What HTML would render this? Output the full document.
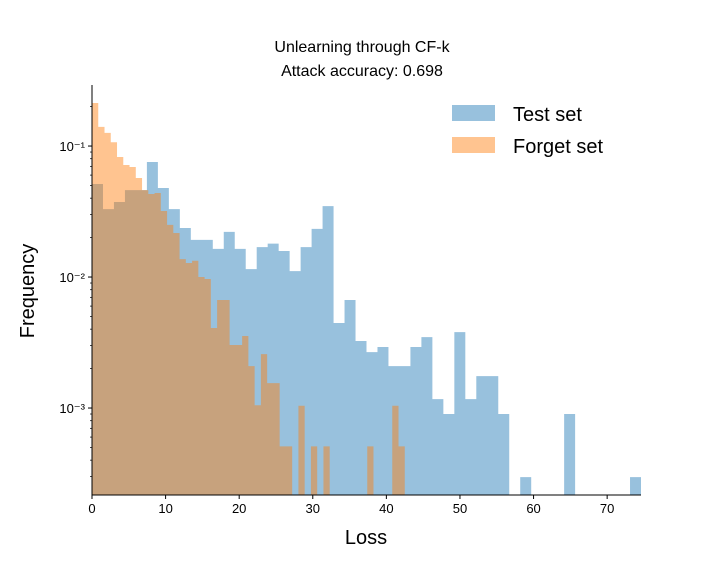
<!DOCTYPE html>
<html><head><meta charset="utf-8"><style>
body{margin:0;background:#fff;}
svg text{font-family:"Liberation Sans","DejaVu Sans",sans-serif;fill:#000;}
</style></head><body>
<svg id="chart" width="714" height="564" viewBox="0 0 714 564" xmlns="http://www.w3.org/2000/svg">
<text x="362" y="52" text-anchor="middle" font-size="16">Unlearning through CF-k</text>
<text x="362" y="76" text-anchor="middle" font-size="16">Attack accuracy: 0.698</text>
<g id="bars"></g>
<g id="axes"></g>
<text x="366" y="544" text-anchor="middle" font-size="20">Loss</text>
<text transform="translate(34,291) rotate(-90)" text-anchor="middle" font-size="20">Frequency</text>
<g>
<g>
<rect x="452" y="105" width="43" height="16" fill="#1f77b4" fill-opacity="0.46"/>
<text x="513" y="121" font-size="20">Test set</text></g>
<g>
<rect x="452" y="137" width="43" height="16" fill="#ff7f0e" fill-opacity="0.46"/>
<text x="513" y="153" font-size="20">Forget set</text></g>
</g>
</svg>
<script>
const testValues=[.0513,.0330,.0374,.0461,.0461,.0755,.0478,.0330,.0237,.0192,.0192,.0164,.0221,.0164,.0115,.0169,.0180,.0158,.0111,.0169,.0233,.0348,.00446,.00668,.00325,.00267,.00292,.00209,.00209,.00292,.00348,.00117,.00090,.00380,.00117,.00175,.00175,.00090,0,.000297,0,0,0,.00090,0,0,0,0,0,.000297];
const testRange=[0,74.6];
const forgetValues=[.213,.140,.126,.107,.0824,.0716,.0692,.0570,.0461,.0430,.0438,.0319,.0250,.0217,.0137,.0128,.0133,.0100,.00966,.00408,.00668,.00668,.00303,.00303,.00355,.00209,.00105,.00258,.00155,.00155,.00051,.00051,0,.00104,0,.00051,0,.00051,0,0,0,0,0,0,.00051,0,0,0,.00104,.00051];
const forgetRange=[0,42.5];
const xTicks=[0,10,20,30,40,50,60,70];
const yDecades=[-3,-2,-1];
const yTickLabels=["10\u207B\u00B3","10\u207B\u00B2","10\u207B\u00B9"];

const X0=92,X1=641,Y0=495,Y1=85;
const xMax=74.6;
const yMinLog=-3.664,yMaxLog=-0.534;
function sx(v){return X0+(v/xMax)*(X1-X0);}
function sy(v){return v<=0?Y0:Math.max(Y1,Y0-(Math.log10(v)-yMinLog)/(yMaxLog-yMinLog)*(Y0-Y1));}
const NS="http://www.w3.org/2000/svg";
const bars=document.getElementById('bars'),axes=document.getElementById('axes');
function mk(tag,attrs,parent){const e=document.createElementNS(NS,tag);for(const k in attrs)e.setAttribute(k,attrs[k]);parent.appendChild(e);return e;}
function drawHist(vals,range,color,name){
  const w=(range[1]-range[0])/vals.length;
  let d='M'+sx(range[0])+','+Y0;
  vals.forEach((v,i)=>{
    const xa=sx(range[0]+i*w),xb=sx(range[0]+(i+1)*w),y=sy(v);
    d+=' L'+xa+','+y+' L'+xb+','+y;
  });
  d+=' L'+sx(range[1])+','+Y0+' Z';
  const p=mk('path',{d:d,fill:color,'fill-opacity':0.46},bars);
  
  
}
drawHist(testValues,testRange,'#1f77b4','test-set');
drawHist(forgetValues,forgetRange,'#ff7f0e','forget-set');

let l=mk('line',{x1:X0,y1:Y1,x2:X0,y2:Y0+0.5,stroke:'#000','stroke-width':1},axes);


l=mk('line',{x1:X0-0.5,y1:Y0,x2:X1,y2:Y0,stroke:'#000','stroke-width':1},axes);


xTicks.forEach(t=>{
  const x=sx(t);
  mk('line',{x1:x,y1:Y0,x2:x,y2:Y0+4,stroke:'#000'},axes);
  const tx=mk('text',{x:x,y:Y0+18,'text-anchor':'middle','font-size':13},axes);
  tx.textContent=t;
  
  
});
for(let d=-4;d<=0;d++){
  for(let m=1;m<10;m++){
    const v=m*Math.pow(10,d);
    const y=Y0-(Math.log10(v)-yMinLog)/(yMaxLog-yMinLog)*(Y0-Y1);
    if(y>Y0+0.1||y<Y1-0.1)continue;
    mk('line',{x1:X0-(m===1?4:2),y1:y,x2:X0,y2:y,stroke:'#000','stroke-width':m===1?1:0.7},axes);
  }
}
yDecades.forEach((d,i)=>{
  const y=sy(Math.pow(10,d));
  const tx=mk('text',{x:X0-7,y:y+5,'text-anchor':'end','font-size':13},axes);
  tx.textContent=yTickLabels[i];
  
  
});
</script>
</body></html>
